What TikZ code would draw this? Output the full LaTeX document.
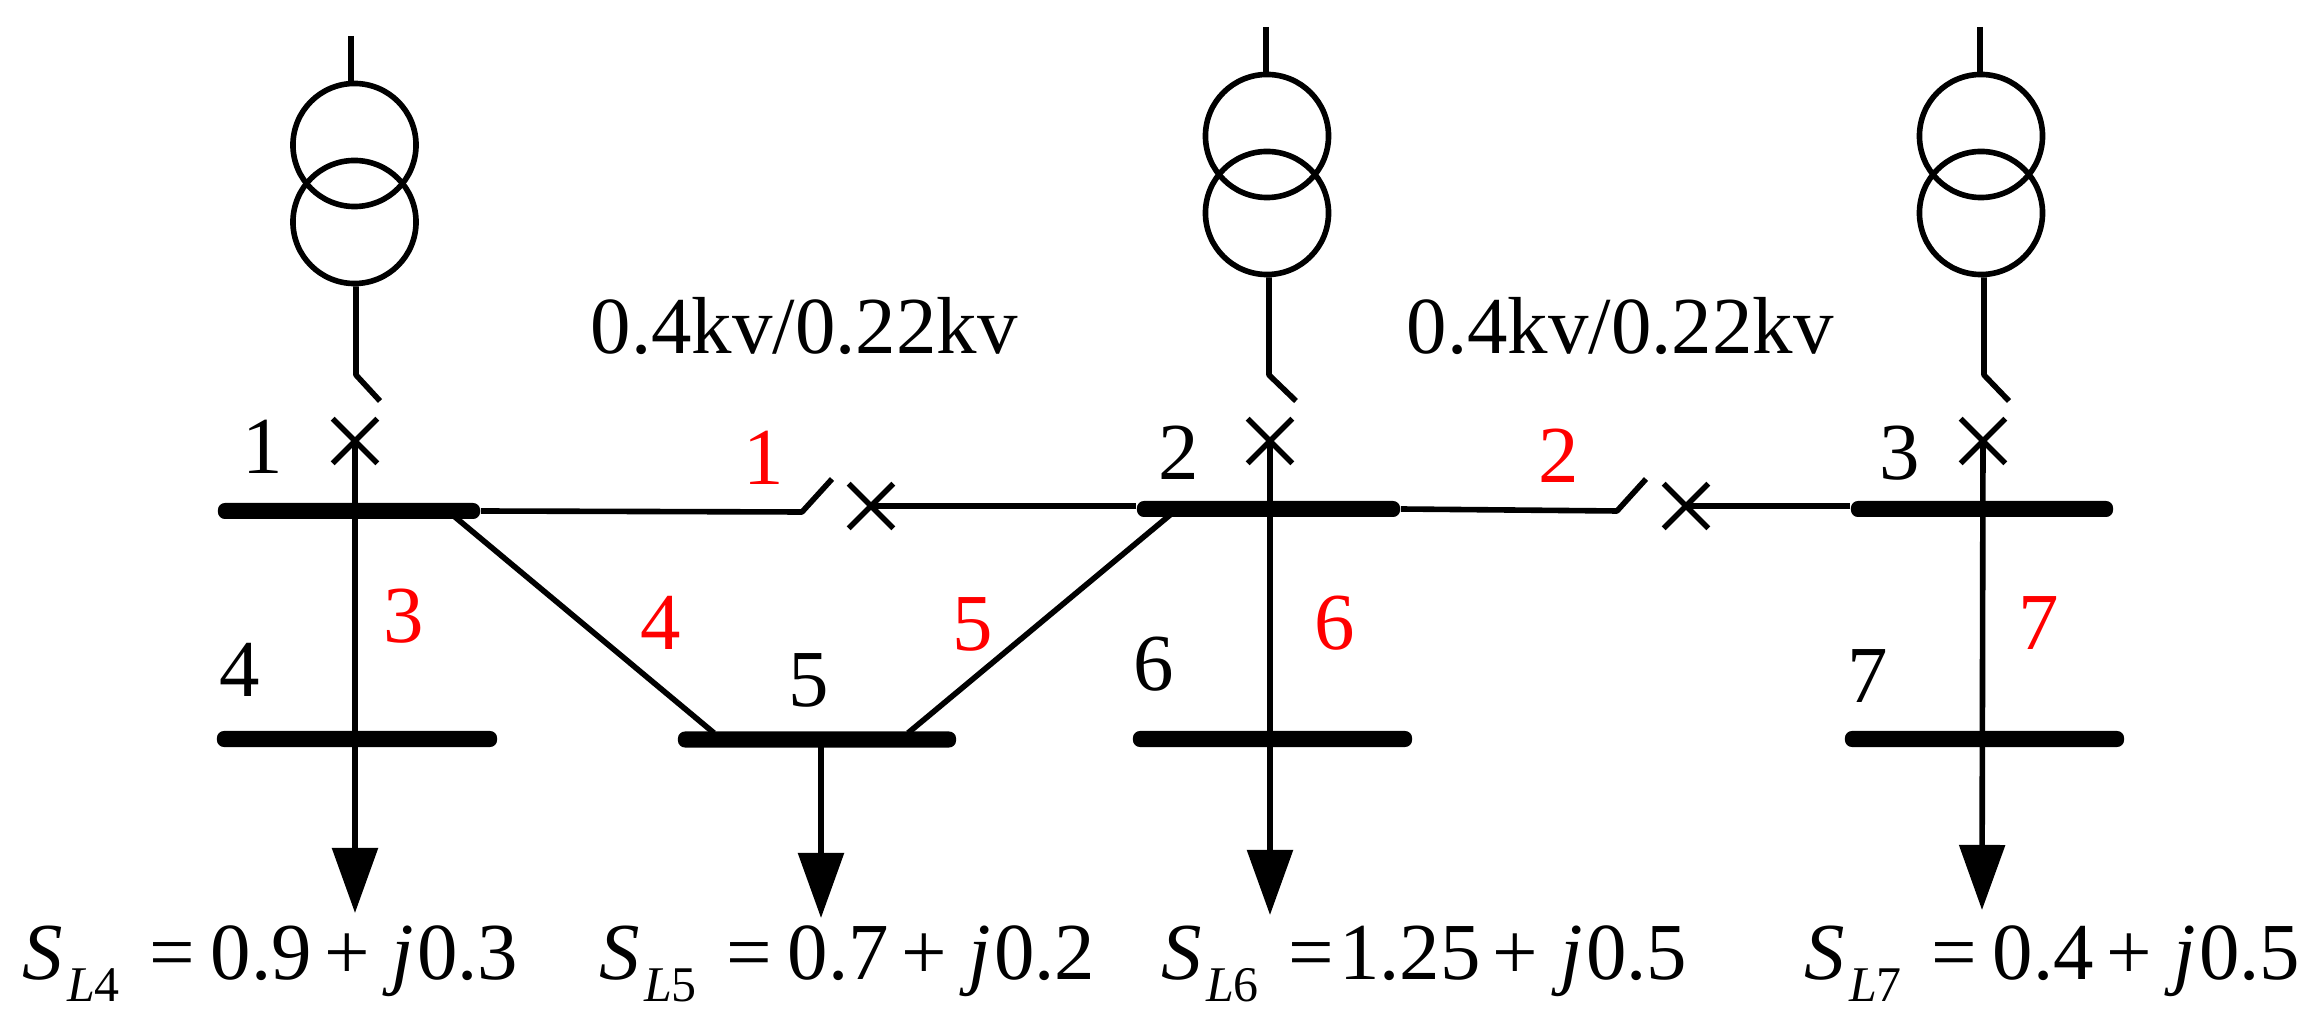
\documentclass[tikz,border=0pt]{standalone}
\usepackage[no-math]{fontspec}
\setmainfont{Liberation Serif}
\usepackage{xcolor}
\usetikzlibrary{arrows.meta,shapes.misc}
\definecolor{redlab}{HTML}{FF0000}
\newcommand{\sload}[3]{\textit{S}\kern0.05em\raisebox{-0.26em}{\fontsize{14.2}{16}\selectfont\textit{L}#1}\kern0.36em=\kern0.2em#2\kern0.15em+\kern0.27em\textit{j}\kern0.04em#3}
\tikzset{
  wire/.style={draw=black, line width=0.056cm, line join=round},
  feed/.style={wire, -{Triangle[length=0.65cm,width=0.45cm]}},
  coil/.style={circle, draw=black, line width=0.056cm, minimum size=1.23cm, inner sep=0pt},
  brk/.style={cross out, draw=black, line width=0.056cm, minimum size=0.39cm, inner sep=0pt},
  bus/.style={rectangle, fill=black, rounded corners=0.07cm, minimum height=0.16cm, inner sep=0pt},
  lab/.style={text=black, font=\fontsize{23}{27}\selectfont, inner sep=0pt, anchor=base},
  labr/.style={lab, text=redlab},
  load/.style={lab, anchor=base west},
}

\begin{document}
\begin{tikzpicture}[x=0.01cm,y=-0.01cm]
  \useasboundingbox (0,0) rectangle (2320,1031);
  % transformers
  \node[coil] (t1a) at (354.5,145) {};
  \node[coil] (t1b) at (354.5,222) {};
  \node[coil] (t2a) at (1267,136) {};
  \node[coil] (t2b) at (1267,213) {};
  \node[coil] (t3a) at (1981,136) {};
  \node[coil] (t3b) at (1981,213) {};
  % buses
  \node[bus,minimum width=2.62cm] (bus1) at (349,511) {};
  \node[bus,minimum width=2.63cm] (bus2) at (1268.5,509) {};
  \node[bus,minimum width=2.62cm] (bus3) at (1982,509) {};
  \node[bus,minimum width=2.80cm] (bus4) at (357,739) {};
  \node[bus,minimum width=2.78cm] (bus5) at (817,739.5) {};
  \node[bus,minimum width=2.79cm] (bus6) at (1272.5,739) {};
  \node[bus,minimum width=2.79cm] (bus7) at (1984.5,739) {};
  % breakers
  \node[brk] (brk1) at (355,441) {};
  \node[brk] (brk2) at (1270,441) {};
  \node[brk] (brk3) at (1983,441) {};
  \node[brk] (brk12) at (871,506) {};
  \node[brk] (brk23) at (1686,506) {};
  % free ends
  \coordinate (hv1) at (351,36);
  \coordinate (hv2) at (1266,27);
  \coordinate (hv3) at (1980,27);
  \coordinate (k1) at (356,375);
  \coordinate (k2) at (1269,375);
  \coordinate (k3) at (1984,375);
  \coordinate (s1) at (380,401);
  \coordinate (s2) at (1296,401);
  \coordinate (s3) at (2009,401);
  \coordinate (k12) at (802,512);
  \coordinate (s12) at (832,479);
  \coordinate (k23) at (1617,511);
  \coordinate (s23) at (1646,479);
  \coordinate (j1) at (455,517);
  \coordinate (j2) at (1170,515);
  \coordinate (j5a) at (714,733);
  \coordinate (j5b) at (908,733);
  \coordinate (fd5) at (821,739);
  \coordinate (tip4) at (355,913);
  \coordinate (tip5) at (821,918);
  \coordinate (tip6) at (1270,915);
  \coordinate (tip7) at (1982,910);
  % transformer leads
  \draw[wire] (hv1) -- (t1a.north -| hv1);
  \draw[wire] (hv2) -- (t2a.north -| hv2);
  \draw[wire] (hv3) -- (t3a.north -| hv3);
  \draw[wire] (t1b.south -| k1) -- (k1) -- (s1);
  \draw[wire] (t2b.south -| k2) -- (k2) -- (s2);
  \draw[wire] (t3b.south -| k3) -- (k3) -- (s3);
  % feeders
  \draw[feed] (brk1.center) -- (tip4);
  \draw[feed] (brk2.center) -- (tip6);
  \draw[feed] (brk3.center) -- (tip7);
  \draw[feed] (fd5) -- (tip5);
  % ties
  \draw[wire] (bus1.east) -- (k12) -- (s12);
  \draw[wire] (brk12.center) -- (bus2.west |- brk12.center);
  \draw[wire] (bus2.east) -- (k23) -- (s23);
  \draw[wire] (brk23.center) -- (bus3.west |- brk23.center);
  \draw[wire] (j1) -- (j5a);
  \draw[wire] (j2) -- (j5b);
  % texts
  \node[lab] (vr1) at (804,354) {0.4kv/0.22kv};
  \node[lab] (vr2) at (1620,354) {0.4kv/0.22kv};
  \node[lab] (n1) at (263,474) {1};
  \node[lab] (n2) at (1179,480) {2};
  \node[lab] (n3) at (1900,480) {3};
  \node[lab] (n4) at (240,697) {4};
  \node[lab] (n5) at (809,707) {5};
  \node[lab] (n6) at (1154,691) {6};
  \node[lab] (n7) at (1868,703) {7};
  \node[labr] (l1) at (764,485) {1};
  \node[labr] (l2) at (1559,483) {2};
  \node[labr] (l3) at (404,643) {3};
  \node[labr] (l4) at (661,650) {4};
  \node[labr] (l5) at (973,651) {5};
  \node[labr] (l6) at (1335,650) {6};
  \node[labr] (l7) at (2039,650) {7};
  \node[load] (p4) at (22,980) {\sload{4}{0.9}{0.3}};
  \node[load] (p5) at (599,980) {\sload{5}{0.7}{0.2}};
  \node[load] (p6) at (1161,980) {\sload{6}{\kern-0.13em1.25}{0.5}};
  \node[load] (p7) at (1804,980) {\sload{7}{0.4}{0.5}};
\end{tikzpicture}
\end{document}
